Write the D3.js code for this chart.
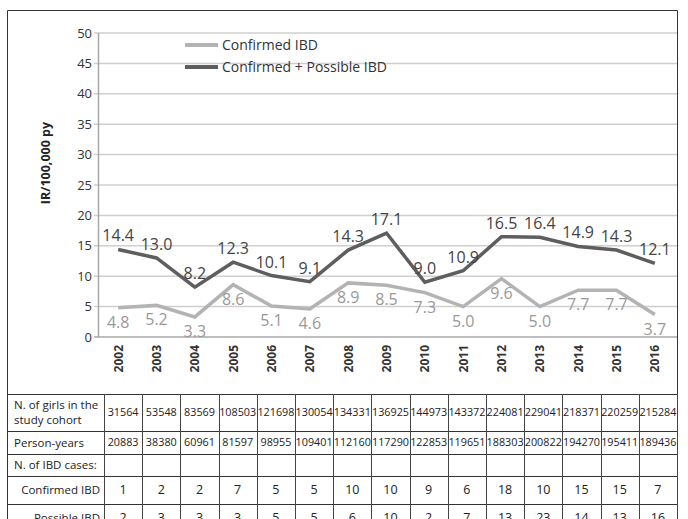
<!DOCTYPE html>
<html>
<head>
<meta charset="utf-8">
<script src="https://cdn.jsdelivr.net/npm/d3@7"></script>
<style>
  body { margin: 0; background: #fff; }
  svg { display: block; }
</style>
</head>
<body>
<script>
// chart data
const years = ["2002","2003","2004","2005","2006","2007","2008","2009","2010","2011","2012","2013","2014","2015","2016"];
const confirmedIR = [4.8, 5.2, 3.3, 8.6, 5.1, 4.6, 8.9, 8.5, 7.3, 5.0, 9.6, 5.0, 7.7, 7.7, 3.7];
const combinedIR = [14.4, 13.0, 8.2, 12.3, 10.1, 9.1, 14.3, 17.1, 9.0, 10.9, 16.5, 16.4, 14.9, 14.3, 12.1];
const yTicks = [0, 5, 10, 15, 20, 25, 30, 35, 40, 45, 50];

// table data
const girls = [31564, 53548, 83569, 108503, 121698, 130054, 134331, 136925, 144973, 143372, 224081, 229041, 218371, 220259, 215284];
const personYears = [20883, 38380, 60961, 81597, 98955, 109401, 112160, 117290, 122853, 119651, 188303, 200822, 194270, 195411, 189436];
const confirmedCases = [1, 2, 2, 7, 5, 5, 10, 10, 9, 6, 18, 10, 15, 15, 7];
const possibleCases = [2, 3, 3, 3, 5, 5, 6, 10, 2, 7, 13, 23, 14, 13, 16];

const width = 688, height = 519;
const font = "'Open Sans', sans-serif";

const svg = d3.select("body").append("svg")
  .attr("width", width)
  .attr("height", height)
  .style("font-family", font);

// outer frame
svg.append("path")
  .attr("d", `M7.5,${height} V10.5 H677.5 V${height}`)
  .attr("fill", "none")
  .attr("stroke", "#333")
  .attr("stroke-width", 1);

const x = d3.scaleBand().domain(years).range([99, 674]).paddingInner(0);
const y = d3.scaleLinear().domain([0, 50]).range([337, 33]);
const cx = (d) => x(d) + x.bandwidth() / 2;

// gridlines
svg.append("g")
  .selectAll("line")
  .data(yTicks)
  .join("line")
  .attr("x1", 94)
  .attr("x2", 677)
  .attr("y1", (d) => y(d))
  .attr("y2", (d) => y(d))
  .attr("stroke", (d) => (d === 0 ? "#a8a8a8" : "#cfcfcf"))
  .attr("stroke-width", 1.5);

// y axis line
svg.append("line")
  .attr("x1", 98.5).attr("x2", 98.5)
  .attr("y1", y(50)).attr("y2", y(0))
  .attr("stroke", "#a8a8a8")
  .attr("stroke-width", 1.5);

// y tick labels
svg.append("g")
  .selectAll("text")
  .data(yTicks)
  .join("text")
  .attr("x", 92)
  .attr("y", (d) => y(d))
  .attr("dy", "0.35em")
  .attr("text-anchor", "end")
  .attr("font-size", 13)
  .attr("fill", "#333")
  .text((d) => d);

// y axis title
svg.append("text")
  .attr("transform", "translate(50,163) rotate(-90)")
  .attr("text-anchor", "middle")
  .attr("font-size", 12.5)
  .attr("font-weight", "bold")
  .attr("fill", "#222")
  .text("IR/100,000 py");

// x tick labels
svg.append("g")
  .selectAll("text")
  .data(years)
  .join("text")
  .attr("transform", (d) => `translate(${cx(d) + 4.5},345) rotate(-90)`)
  .attr("text-anchor", "end")
  .attr("font-size", 12)
  .attr("font-weight", "bold")
  .attr("fill", "#333")
  .text((d) => d);

const line = d3.line()
  .x((d, i) => cx(years[i]))
  .y((d) => y(d));

const series = [
  { name: "Confirmed IBD", values: confirmedIR, color: "#b3b3b3", labelColor: "#999", dy: 20 },
  { name: "Confirmed + Possible IBD", values: combinedIR, color: "#5e5e5e", labelColor: "#444", dy: -8 },
];

series.forEach((s) => {
  svg.append("path")
    .datum(s.values)
    .attr("d", line)
    .attr("fill", "none")
    .attr("stroke", s.color)
    .attr("stroke-width", 3.5)
    .attr("stroke-linejoin", "miter");

  svg.append("g")
    .selectAll("text")
    .data(s.values)
    .join("text")
    .attr("x", (d, i) => cx(years[i]))
    .attr("y", (d) => y(d) + s.dy)
    .attr("text-anchor", "middle")
    .attr("font-size", 16)
    .attr("fill", s.labelColor)
    .text((d) => d.toFixed(1));
});

// legend
const legend = svg.append("g")
  .selectAll("g")
  .data(series)
  .join("g")
  .attr("transform", (d, i) => `translate(185,${45 + i * 22})`);

legend.append("line")
  .attr("x1", 0).attr("x2", 33)
  .attr("stroke", (d) => d.color)
  .attr("stroke-width", 4);

legend.append("text")
  .attr("x", 37)
  .attr("dy", "0.35em")
  .attr("font-size", 14)
  .attr("fill", "#333")
  .text((d) => d.name);

// table
const tx = d3.scaleBand().domain(years).range([104, 677]);
const rowEdges = [394, 431, 454, 476, 504, 532];
const rows = [
  { label: ["N. of girls in the", "study cohort"], values: girls, align: "start" },
  { label: ["Person-years"], values: personYears, align: "start" },
  { label: ["N. of IBD cases:"], values: null, align: "start" },
  { label: ["Confirmed IBD"], values: confirmedCases, align: "end" },
  { label: ["Possible IBD"], values: possibleCases, align: "end" },
];

const table = svg.append("g");

// horizontal rules
table.selectAll("line.h")
  .data(rowEdges.slice(0, 5))
  .join("line")
  .attr("class", "h")
  .attr("x1", 7).attr("x2", 677)
  .attr("y1", (d) => d + 0.5).attr("y2", (d) => d + 0.5)
  .attr("stroke", "#333");

// vertical rules
const colEdges = [104, ...years.map((d) => tx(d) + tx.bandwidth())];
table.selectAll("line.v")
  .data(colEdges)
  .join("line")
  .attr("class", "v")
  .attr("x1", (d) => Math.round(d) + 0.5).attr("x2", (d) => Math.round(d) + 0.5)
  .attr("y1", rowEdges[0]).attr("y2", height)
  .attr("stroke", "#444");

rows.forEach((r, ri) => {
  const mid = (rowEdges[ri] + rowEdges[ri + 1]) / 2;
  const lineH = 15;
  r.label.forEach((t, li) => {
    table.append("text")
      .attr("x", r.align === "end" ? 100 : 14)
      .attr("y", mid + (li - (r.label.length - 1) / 2) * lineH)
      .attr("dy", "0.35em")
      .attr("text-anchor", r.align)
      .attr("font-size", 11.5)
      .attr("fill", "#222")
      .text(t);
  });
  if (r.values) {
    table.append("g")
      .selectAll("text")
      .data(r.values)
      .join("text")
      .attr("x", (d, i) => tx(years[i]) + tx.bandwidth() / 2)
      .attr("y", mid)
      .attr("dy", "0.35em")
      .attr("text-anchor", "middle")
      .attr("font-size", r.values === girls || r.values === personYears ? 10.8 : 12.5)
      .attr("fill", "#222")
      .text((d) => d);
  }
});
</script>
</body>
</html>
